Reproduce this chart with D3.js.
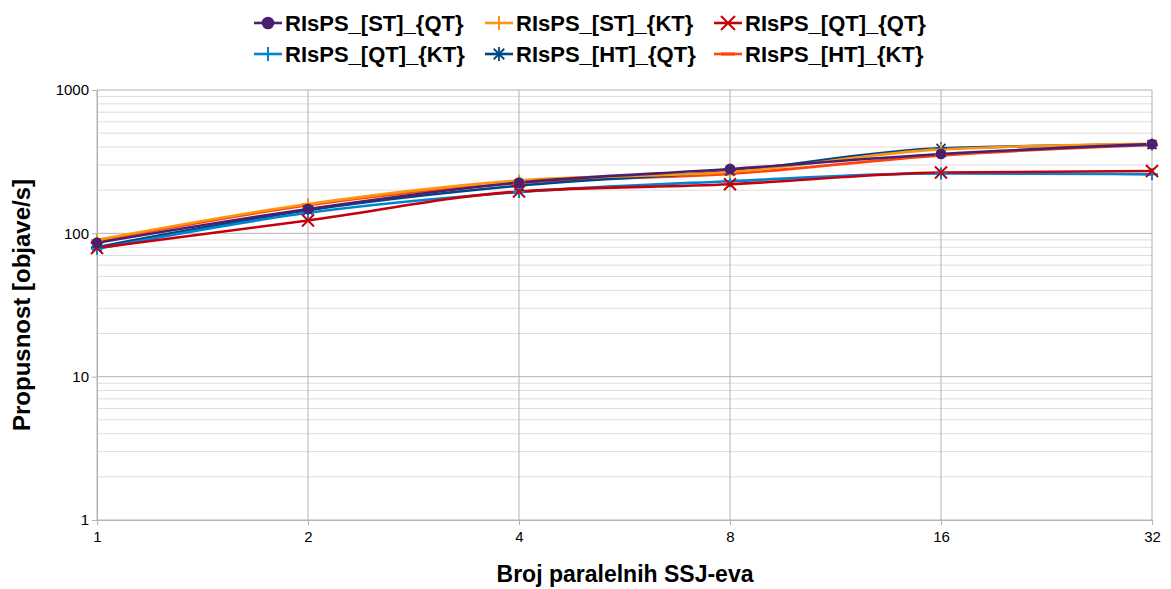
<!DOCTYPE html>
<html><head><meta charset="utf-8">
<script src="https://cdn.jsdelivr.net/npm/d3@7"></script>
<style>body{margin:0;background:#fff}svg{display:block;font-family:"Liberation Sans",Arial,sans-serif}</style>
</head><body><svg id="c" width="1171" height="589"></svg>
<script>
const threads = [1, 2, 4, 8, 16, 32];
const seriesNames = ["RIsPS_[ST]_{QT}", "RIsPS_[ST]_{KT}", "RIsPS_[QT]_{QT}", "RIsPS_[QT]_{KT}", "RIsPS_[HT]_{QT}", "RIsPS_[HT]_{KT}"];
const stQT = [86, 148, 226, 281, 358, 419];
const stKT = [90, 160, 234, 268, 385, 421];
const qtQT = [79, 123, 196, 220, 266, 272];
const qtKT = [78, 139, 194, 231, 262, 258];
const htQT = [80, 145, 215, 272, 392, 416];
const htKT = [88, 157, 225, 260, 350, 414];
const yTicks = [1, 10, 100, 1000];
const xTitle = "Broj paralelnih SSJ-eva";
const yTitle = "Propusnost [objave/s]";

const colors = ["#4b1f6f", "#ff950e", "#c5000b", "#0084d1", "#004586", "#ff420e"];
const markers = ["circle", "plus", "x", "plus", "star", "dash"];
const values = [stQT, stKT, qtQT, qtKT, htQT, htKT];

const svg = d3.select("#c");
const L = 97, R = 1152, T = 90, B = 520;
const x = d3.scaleLog().base(2).domain([1, 32]).range([L, R]);
const y = d3.scaleLog().domain([1, 1000]).range([B, T]);

const minor = [];
for (let d = 1; d < 1000; d *= 10) for (let k = 2; k <= 9; k++) minor.push(d * k);
svg.append("g").selectAll("line").data(minor).join("line")
  .attr("x1", L).attr("x2", R).attr("y1", d => y(d)).attr("y2", d => y(d))
  .attr("stroke", "#dddddd").attr("stroke-width", 1);
svg.append("g").selectAll("line").data(yTicks).join("line")
  .attr("x1", L).attr("x2", R).attr("y1", d => y(d)).attr("y2", d => y(d))
  .attr("stroke", "#b3b3b3").attr("stroke-width", 1);
svg.append("g").selectAll("line").data(threads).join("line")
  .attr("x1", d => x(d)).attr("x2", d => x(d)).attr("y1", T).attr("y2", B)
  .attr("stroke", "#b3b3b3").attr("stroke-width", 1);

const yAxis = d3.axisLeft(y).tickValues(yTicks).tickFormat(d3.format("d")).tickSize(5).tickPadding(3);
const gy = svg.append("g").attr("transform", `translate(${L},0)`).call(yAxis);
const xAxis = d3.axisBottom(x).tickValues(threads).tickFormat(d3.format("d")).tickSize(5).tickPadding(6);
const gx = svg.append("g").attr("transform", `translate(0,${B})`).call(xAxis);
[gx, gy].forEach(g => {
  g.select(".domain").attr("stroke", "#b3b3b3");
  g.selectAll(".tick line").attr("stroke", "#b3b3b3");
  g.selectAll("text").attr("fill", "#000").style("font-size", "15px").style("font-family", "Liberation Sans, Arial, sans-serif");
});

svg.append("text").attr("x", 625).attr("y", 582).attr("text-anchor", "middle")
  .style("font-size", "23px").style("font-weight", "bold").text(xTitle);
svg.append("text").attr("transform", `translate(30,${(T + B) / 2}) rotate(-90)`).attr("text-anchor", "middle")
  .style("font-size", "24px").style("font-weight", "bold").text(yTitle);

function drawMarker(g, type, color, cx, cy, s) {
  if (type === "circle") g.append("circle").attr("cx", cx).attr("cy", cy).attr("r", s * 0.9).attr("fill", color);
  else if (type === "plus") {
    g.append("path").attr("d", `M${cx - s},${cy}H${cx + s}M${cx},${cy - s}V${cy + s}`).attr("stroke", color).attr("stroke-width", 2);
  } else if (type === "x") {
    g.append("path").attr("d", `M${cx - s},${cy - s}L${cx + s},${cy + s}M${cx - s},${cy + s}L${cx + s},${cy - s}`).attr("stroke", color).attr("stroke-width", 2);
  } else if (type === "star") {
    g.append("path").attr("d", `M${cx - s},${cy}H${cx + s}M${cx},${cy - s}V${cy + s}M${cx - s * 0.75},${cy - s * 0.75}L${cx + s * 0.75},${cy + s * 0.75}M${cx - s * 0.75},${cy + s * 0.75}L${cx + s * 0.75},${cy - s * 0.75}`).attr("stroke", color).attr("stroke-width", 1.8);
  } else if (type === "dash") {
    g.append("path").attr("d", `M${cx - s},${cy}H${cx + s}`).attr("stroke", color).attr("stroke-width", 3);
  }
}

const line = d3.line().x((d, i) => x(threads[i])).y(d => y(d)).curve(d3.curveMonotoneX);
const order = [5, 4, 3, 1, 2, 0];
const lg = svg.append("g");
order.forEach(si => {
  lg.append("path").datum(values[si]).attr("d", line).attr("fill", "none")
    .attr("stroke", colors[si]).attr("stroke-width", 2.6);
});
order.forEach(si => {
  const mg = svg.append("g");
  values[si].forEach((v, i) => drawMarker(mg, markers[si], colors[si], x(threads[i]), y(v), 6));
});

const legX = [254, 485, 714], legY = [23, 54];
seriesNames.forEach((n, i) => {
  const g = svg.append("g");
  const lx = legX[i % 3], ly = legY[Math.floor(i / 3)];
  g.append("line").attr("x1", lx).attr("x2", lx + 28).attr("y1", ly).attr("y2", ly).attr("stroke", colors[i]).attr("stroke-width", 2.6);
  drawMarker(g, markers[i], colors[i], lx + 14, ly, 7);
  g.append("text").attr("x", lx + 31).attr("y", ly + 8).style("font-size", "22px").style("font-weight", "bold").text(n);
});
</script></body></html>
